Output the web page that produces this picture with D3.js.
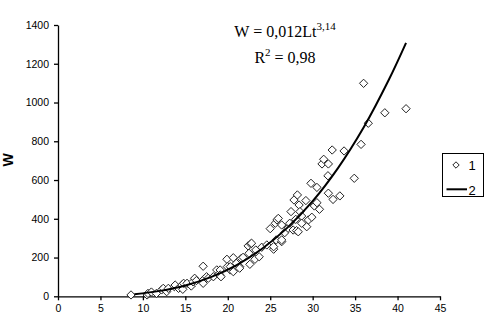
<!DOCTYPE html>
<html><head><meta charset="utf-8">
<script src="https://cdn.jsdelivr.net/npm/d3@7"></script>
<style>body{margin:0;background:#fff}svg{display:block}</style>
</head><body>
<svg id="chart" width="488" height="323"></svg>
<script>
// Observed data (series 1): length Lt, weight W
const obsL = [8.6,10.5,10.6,11.0,11.6,12.2,12.4,12.8,13.0,13.7,13.8,14.2,14.6,14.7,14.8,15.2,15.7,15.9,16.1,16.3,17.1,17.1,17.1,17.5,17.7,18.3,18.7,18.9,19.1,19.1,19.2,19.9,19.95,20.3,20.3,20.65,20.65,21.0,21.4,21.4,21.6,21.8,22.4,22.5,22.6,22.7,22.8,23.2,23.3,23.7,24.0,24.6,25.0,25.4,25.4,25.6,25.7,25.8,25.95,26.35,26.35,26.35,26.7,27.1,27.3,27.45,27.7,27.8,28.0,28.1,28.2,28.3,28.4,28.5,28.7,28.7,29.2,29.3,29.5,29.8,29.9,30.2,30.5,30.5,30.8,31.1,31.3,31.8,31.85,31.85,32.3,32.4,33.2,33.7,34.9,35.7,36.0,36.55,38.5,41.0];
const obsW = [7,7,15,22,15,33,41,24,41,50,58,41,58,36,67,67,53,75,93,81,84,67,155,101,93,101,136,113,136,110,101,191,153,136,153,199,127,170,153,145,196,201,260,222,165,270,274,191,239,204,253,265,349,243,256,377,291,394,402,368,282,291,328,351,377,437,342,497,397,339,523,333,471,437,414,377,494,359,394,583,408,466,562,483,449,683,707,622,683,532,755,500,518,750,609,784,1099,893,947,968];
// Power fit (series 2)
const fitL = [9,12,15,18,21,24,27,30,33,36,39,41];
const fitW = [11,28,56,99,160,244,353,491,663,871,1120,1308];
const xTicks = [0,5,10,15,20,25,30,35,40,45];
const yTicks = [0,200,400,600,800,1000,1200,1400];
const legendLabels = ["1","2"];

const svg = d3.select("#chart");
svg.append("rect").attr("width",488).attr("height",323).attr("fill","#fff");

const x = d3.scaleLinear().domain([0,45]).range([58,440]);
const y = d3.scaleLinear().domain([0,1400]).range([296.3,25]);

const font = "'Liberation Sans', Arial, sans-serif";

// axes
const xAxis = d3.axisBottom(x).tickValues(xTicks).tickFormat(d3.format("d")).tickSize(4).tickSizeOuter(0).tickPadding(4);
const gx = svg.append("g").attr("transform","translate(0,296.3)").call(xAxis);
const yAxis = d3.axisLeft(y).tickValues(yTicks).tickFormat(d3.format("d")).tickSize(4).tickSizeOuter(0).tickPadding(5);
const gy = svg.append("g").attr("transform","translate(58,0)").call(yAxis);
[gx,gy].forEach(g=>{
  g.selectAll("path").attr("stroke","#000").attr("stroke-width",1.3);
  g.selectAll("line").attr("stroke","#000").attr("stroke-width",1.3);
  g.selectAll("text").attr("font-family",font).attr("font-size","10.5px").attr("fill","#000");
});
gx.selectAll("text").attr("dy","0.71em");

// y label
svg.append("text").attr("transform","translate(13,160) rotate(-90)")
  .attr("text-anchor","middle").attr("font-family",font).attr("font-weight","bold")
  .attr("font-size","14px").text("W");

// diamonds
const diamond = d3.symbol().type(d3.symbolDiamond2).size(44);
const pts = obsL.map((l,i)=>({l, w: obsW[i]}));
svg.append("g").selectAll("path").data(pts).join("path")
  .attr("d", diamond)
  .attr("transform", d=>`translate(${x(d.l)},${y(d.w)})`)
  .attr("fill","#fff").attr("stroke","#222").attr("stroke-width",1);

// fit line
const fit = fitL.map((l,i)=>({l, w: fitW[i]}));
svg.append("path").datum(fit)
  .attr("d", d3.line().x(d=>x(d.l)).y(d=>y(d.w)).curve(d3.curveCatmullRom))
  .attr("fill","none").attr("stroke","#000").attr("stroke-width",2);

// equation
const serif = "'Liberation Serif', 'Times New Roman', serif";
const eq = svg.append("text").attr("x",285).attr("y",37).attr("text-anchor","middle")
  .attr("font-family",serif).attr("font-size","16px").attr("fill","#000");
eq.append("tspan").text("W = 0,012Lt");
eq.append("tspan").attr("font-size","11px").attr("dy","-7").text("3,14");
const r2 = svg.append("text").attr("x",285).attr("y",63).attr("text-anchor","middle")
  .attr("font-family",serif).attr("font-size","16px").attr("fill","#000");
r2.append("tspan").text("R");
r2.append("tspan").attr("font-size","11px").attr("dy","-7").text("2");
r2.append("tspan").attr("dy","7").text(" = 0,98");

// legend
const lg = svg.append("g");
lg.append("rect").attr("x",442.5).attr("y",153.5).attr("width",41).attr("height",43)
  .attr("fill","#fff").attr("stroke","#000").attr("stroke-width",1);
lg.append("path").attr("d", d3.symbol().type(d3.symbolDiamond2).size(26))
  .attr("transform","translate(456,165)").attr("fill","#fff").attr("stroke","#222");
lg.append("line").attr("x1",446.5).attr("x2",467).attr("y1",189.3).attr("y2",189.3)
  .attr("stroke","#000").attr("stroke-width",2);
lg.selectAll("text.lab").data(legendLabels).join("text").attr("class","lab")
  .attr("x",468.5).attr("y",(d,i)=>169.5+i*25).attr("font-family",font)
  .attr("font-size","13px").text(d=>d);
</script>
</body></html>
